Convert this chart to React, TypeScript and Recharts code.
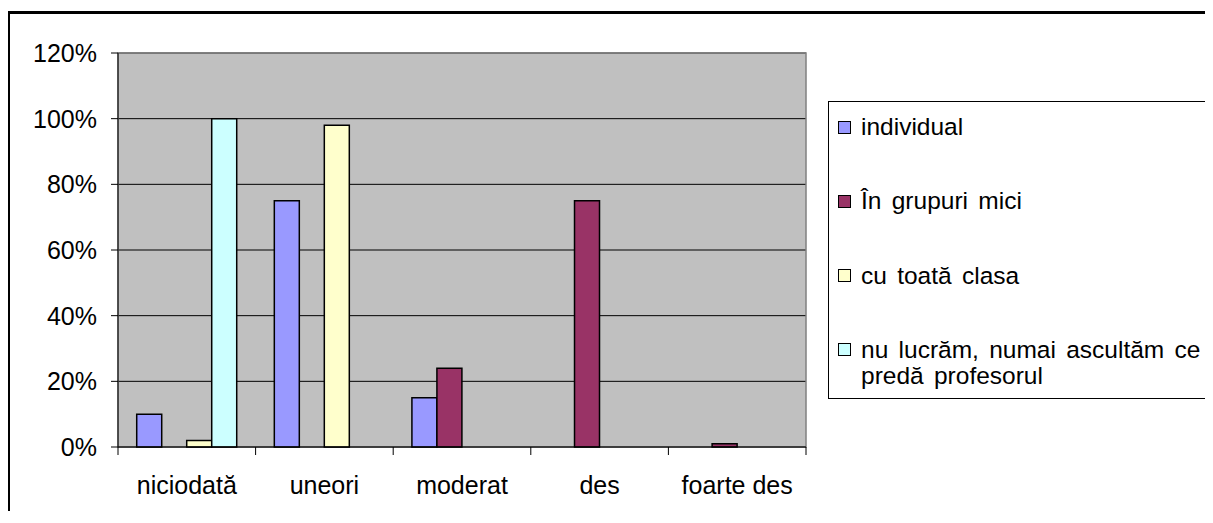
import React from 'react';
import { BarChart, Bar, XAxis, YAxis, CartesianGrid, Legend, ReferenceArea } from 'recharts';

const categories = ['niciodată', 'uneori', 'moderat', 'des', 'foarte des'];
const seriesNames = ['individual', 'În grupuri mici', 'cu toată clasa', 'nu lucrăm, numai ascultăm ce predă profesorul'];
const individual = [0.10, 0.75, 0.15, 0, 0];
const grupuriMici = [0, 0, 0.24, 0.75, 0.01];
const totaClasa = [0.02, 0.98, 0, 0, 0];
const nuLucram = [1.0, 0, 0, 0, 0];
const yTicks = [0, 0.2, 0.4, 0.6, 0.8, 1.0, 1.2];
const seriesColors = ['#9999FF', '#993366', '#FFFFCC', '#CCFFFF'];

const data = categories.map((c, i) => ({
  cat: c,
  s0: individual[i],
  s1: grupuriMici[i],
  s2: totaClasa[i],
  s3: nuLucram[i],
}));

const FONT = '"Liberation Sans", Arial, sans-serif';

const XTick = (props: any) => {
  const { x, y, payload, index, visibleTicksCount } = props;
  const off = payload && typeof payload.offset === 'number' && payload.offset > 0 ? payload.offset : 68.8;
  const last = index === (visibleTicksCount ?? categories.length) - 1;
  return (
    <g>
      <line x1={x - off} y1={y} x2={x - off} y2={y + 8} stroke="#000" strokeWidth={1} />
      {last && <line x1={x + off} y1={y} x2={x + off} y2={y + 8} stroke="#000" strokeWidth={1} />}
      <text x={x} y={y + 38} dy="0.355em" textAnchor="middle" fill="#000" fontSize={25} fontFamily={FONT}>
        {payload.value}
      </text>
    </g>
  );
};

const renderLegend = () => (
  <div
    style={{
      position: 'relative',
      width: '100%',
      height: '100%',
      boxSizing: 'border-box',
      borderTop: '1px solid #000',
      borderLeft: '1px solid #000',
      borderBottom: '1px solid #000',
      background: '#fff',
      fontFamily: FONT,
      fontSize: 24.5,
      color: '#000',
    }}
  >
    {seriesNames.map((name, i) => (
      <div
        key={name}
        style={{
          position: 'absolute',
          left: 9,
          top: 12 + i * 74.3,
          display: 'flex',
          alignItems: 'flex-start',
          lineHeight: '26px',
        }}
      >
        <div
          style={{
            width: 13,
            height: 13,
            marginTop: 6.5,
            boxSizing: 'border-box',
            border: '1.5px solid #000',
            background: seriesColors[i],
            flex: '0 0 auto',
          }}
        />
        <div style={{ marginLeft: 10, width: 342, wordSpacing: 3.5, whiteSpace: 'normal' }}>{name}</div>
      </div>
    ))}
  </div>
);

export default function App() {
  return (
    <div style={{ position: 'relative', width: 1197, height: 503, fontFamily: FONT }}>
      <div style={{ position: 'absolute', left: 0, top: 3, width: 1197, height: 2.5, background: '#000' }} />
      <div style={{ position: 'absolute', left: 0, top: 3, width: 2, height: 500, background: '#000' }} />
      <BarChart
        width={1197}
        height={503}
        data={data}
        margin={{ top: 45, right: 399, bottom: 0, left: 10 }}
        barCategoryGap="13.6%"
        barGap={0}
      >
        <CartesianGrid vertical={false} fill="#C0C0C0" stroke="#000" strokeWidth={1} />
        <ReferenceArea y1={0} y2={1.2} fill="none" stroke="#808080" strokeWidth={1.5} ifOverflow="visible" />
        <XAxis
          dataKey="cat"
          height={64}
          tickLine={false}
          tickSize={0}
          tickMargin={0}
          axisLine={{ stroke: '#000', strokeWidth: 1 }}
          tick={<XTick />}
          interval={0}
        />
        <YAxis
          width={100}
          domain={[0, 1.2]}
          ticks={yTicks}
          interval={0}
          tickFormatter={(v: number) => `${Math.round(v * 100)}%`}
          tickSize={7}
          tickMargin={14}
          tickLine={{ stroke: '#000' }}
          axisLine={{ stroke: '#000', strokeWidth: 1 }}
          tick={{ fill: '#000', fontSize: 25, fontFamily: FONT }}
        />
        <Legend
          layout="vertical"
          align="center"
          verticalAlign="middle"
          content={renderLegend}
          wrapperStyle={{ left: 820, top: 93, width: 377, height: 298 }}
        />
        <Bar dataKey="s0" name={seriesNames[0]} fill={seriesColors[0]} stroke="#000" strokeWidth={1.5} isAnimationActive={false} />
        <Bar dataKey="s1" name={seriesNames[1]} fill={seriesColors[1]} stroke="#000" strokeWidth={1.5} isAnimationActive={false} />
        <Bar dataKey="s2" name={seriesNames[2]} fill={seriesColors[2]} stroke="#000" strokeWidth={1.5} isAnimationActive={false} />
        <Bar dataKey="s3" name={seriesNames[3]} fill={seriesColors[3]} stroke="#000" strokeWidth={1.5} isAnimationActive={false} />
      </BarChart>
    </div>
  );
}
